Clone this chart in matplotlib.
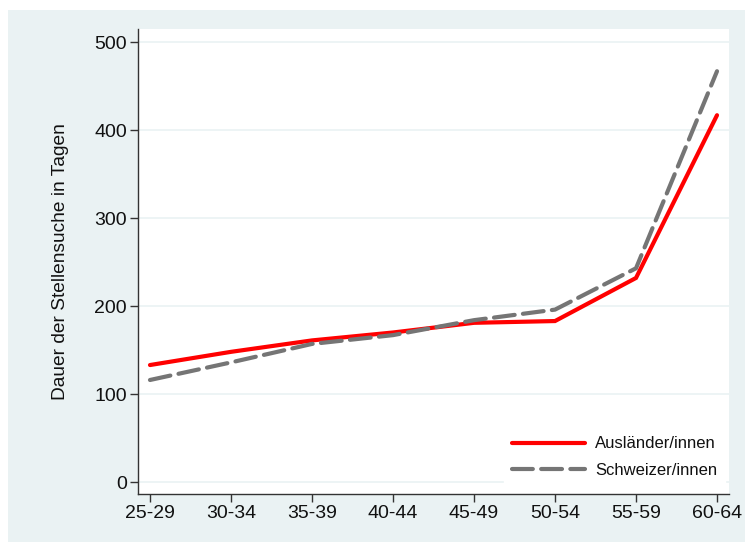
import matplotlib
matplotlib.use("Agg")
import matplotlib.pyplot as plt
from matplotlib.patches import Rectangle

plt.rcParams["font.family"] = ["Liberation Sans", "DejaVu Sans"]

age_groups = ["25-29", "30-34", "35-39", "40-44", "45-49", "50-54", "55-59", "60-64"]
auslaender = [133, 148, 161, 170, 181, 183, 232, 417]
schweizer = [116, 136, 157, 167, 184, 196, 243, 467]
y_ticks = [0, 100, 200, 300, 400, 500]

bg = "#EAF2F3"
fig = plt.figure(figsize=(7.45, 5.42), dpi=100, facecolor="white")
fig.patches.append(Rectangle((8 / 745, 0), 1 - 8 / 745, 1 - 10 / 542,
                             transform=fig.transFigure, facecolor=bg,
                             edgecolor="none", zorder=-10))

ax = fig.add_axes([138 / 745, 48 / 542, (729 - 138) / 745, (494 - 29) / 542])
ax.set_facecolor("white")

x = list(range(len(age_groups)))
ax.plot(x, auslaender, color="#FF0000", lw=3, solid_capstyle="round",
        solid_joinstyle="miter", label="Ausländer/innen", zorder=3)
ax.plot(x, schweizer, color="#757575", lw=3, linestyle=(0, (5, 2)),
        dash_capstyle="round", label="Schweizer/innen", zorder=4)

ax.set_xlim(-0.148, 7.148)
ax.set_ylim(-13.6, 515)
ax.set_xticks(x)
ax.set_xticklabels(age_groups)
ax.set_yticks(y_ticks)
ax.grid(axis="y", color="#EAF2F3", lw=1.2, zorder=0)
ax.set_axisbelow(True)

for s in ["top", "right"]:
    ax.spines[s].set_visible(False)
for s in ["left", "bottom"]:
    ax.spines[s].set_color("#333333")
    ax.spines[s].set_linewidth(1.0)

ax.tick_params(axis="both", direction="out", length=6, width=1.0,
               color="#333333", labelsize=14, labelcolor="#111111", pad=2)
ax.set_ylabel("Dauer der Stellensuche in Tagen", fontsize=13.8,
              color="#111111", labelpad=18)

leg = ax.legend(loc="lower right", bbox_to_anchor=(1.007, 0.0), frameon=True,
                fontsize=12, handlelength=4.4, handletextpad=0.6,
                labelspacing=0.7, borderpad=0.45, borderaxespad=0.5)
leg.get_frame().set_facecolor("white")
leg.get_frame().set_edgecolor("white")
leg.get_frame().set_alpha(1)
leg.get_frame().set_boxstyle("square", pad=0)
for t in leg.get_texts():
    t.set_color("#111111")

fig.savefig("out.png", dpi=100, facecolor=fig.get_facecolor())
